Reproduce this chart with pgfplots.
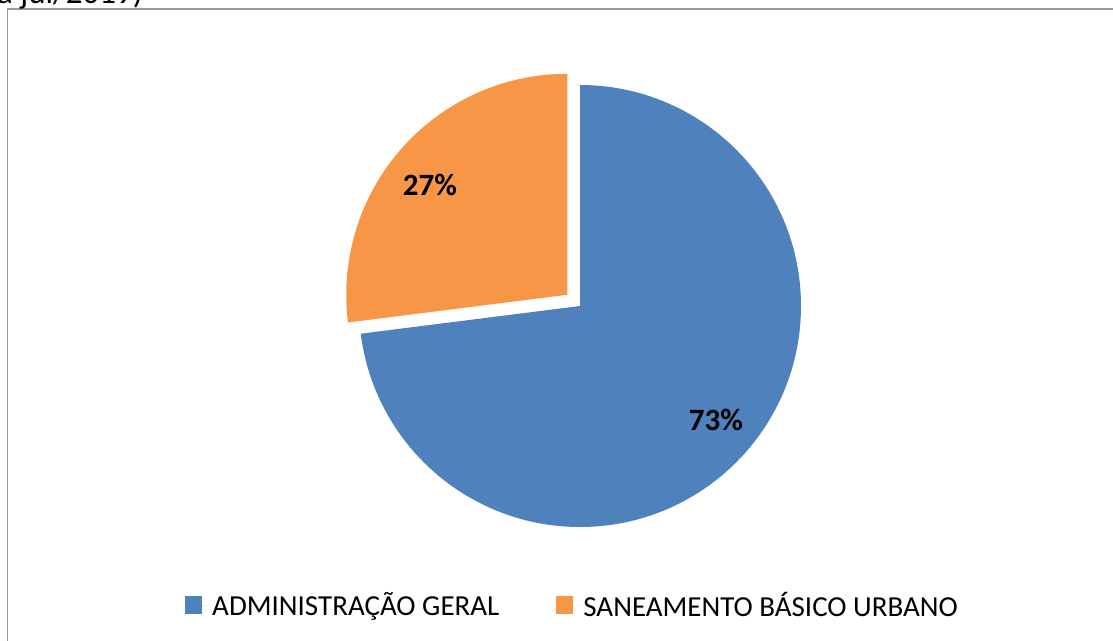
\documentclass[border=0pt]{standalone}
\usepackage{pgfplots}
\pgfplotsset{compat=1.18}
\usepackage{pgfplotstable}
\usepackage{fontspec}
\setmainfont{Carlito}
\definecolor{sliceblue}{HTML}{4F81BD}
\definecolor{sliceorange}{HTML}{F79646}
\definecolor{framegray}{HTML}{9A9A9A}

\pgfplotstableread{
slice value
0 73
1 27
}\piedata

\begin{document}
\begin{tikzpicture}
\pgfplotstablegetelem{0}{value}\of\piedata \let\va\pgfplotsretval
\pgfplotstablegetelem{1}{value}\of\piedata \let\vb\pgfplotsretval
\pgfmathsetmacro{\tot}{\va+\vb}
\pgfmathsetmacro{\fa}{\va/\tot}
\pgfmathsetmacro{\fb}{\vb/\tot}
\pgfmathsetmacro{\aend}{90-360*\fa}
\pgfmathsetmacro{\amidB}{(\aend-270)/2}
\pgfmathsetmacro{\ocx}{580+17*cos(\amidB)}
\pgfmathsetmacro{\ocy}{335+17*sin(\amidB)}
\pgfmathtruncatemacro{\pa}{round(100*\fa)}
\pgfmathtruncatemacro{\pb}{round(100*\fb)}
\begin{axis}[
  x=1bp, y=1bp, xmin=0, xmax=1113, ymin=0, ymax=641,
  hide axis, clip=false,
  legend columns=2,
  legend style={draw=none, fill=none, at={(axis cs:572.5,36)}, anchor=center,
    font=\fontsize{29bp}{34bp}\selectfont,
    /tikz/every even column/.append style={column sep=55bp}},
  legend cell align=left,
  legend image code/.code={\fill[#1] (0bp,-8.5bp) rectangle (17bp,8.5bp); \path (0bp,0bp) -- (25bp,0bp);},
]
\addlegendimage{fill=sliceblue,draw=none}
\addlegendentry{ADMINISTRAÇÃO GERAL}
\addlegendimage{fill=sliceorange,draw=none}
\addlegendentry{SANEAMENTO BÁSICO URBANO}

\fill[sliceblue] (axis cs:580,335) -- ++(90:221bp) arc[start angle=90, end angle=\aend, radius=221bp] -- cycle;
\fill[sliceorange] (axis cs:\ocx,\ocy) -- ++(\aend:221bp) arc[start angle=\aend, end angle=-270, radius=221bp] -- cycle;

\node[font=\bfseries\fontsize{31bp}{37bp}\selectfont, inner sep=0] at (axis cs:716,221) {\pa\%};
\node[font=\bfseries\fontsize{31bp}{37bp}\selectfont, inner sep=0] at (axis cs:430,456) {\pb\%};

\draw[framegray, line width=1.5bp] (axis cs:7.5,-5) -- (axis cs:7.5,632) -- (axis cs:1118,632);
\node[anchor=base west, font=\fontsize{33bp}{39bp}\selectfont, inner sep=0] at (axis cs:-3,637.5) {a jul/2019)};
\end{axis}
\pgfresetboundingbox
\path[use as bounding box] (0,0) rectangle (1113bp,641bp);
\end{tikzpicture}
\end{document}
